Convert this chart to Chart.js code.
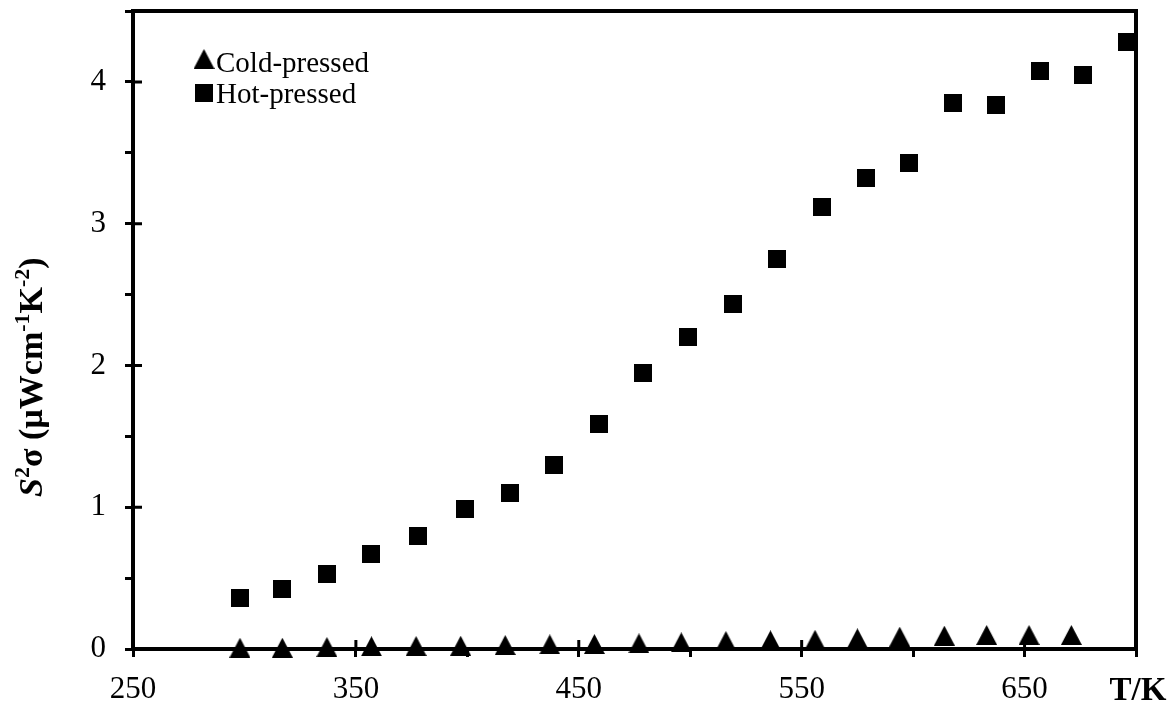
<!DOCTYPE html>
<html>
<head>
<meta charset="utf-8">
<script src="https://cdn.jsdelivr.net/npm/chart.js@4.4.1/dist/chart.umd.min.js"></script>
<style>
  html, body { margin: 0; padding: 0; background: #fff; }
  canvas { display: block; }
</style>
</head>
<body>
<canvas id="pf" width="1174" height="706"></canvas>
<script>
// power factor S²σ against temperature for the two pressing routes
const seriesNames = ['Cold-pressed', 'Hot-pressed'];

const coldT  = [298, 317, 337, 357, 377, 397, 417, 437, 457, 477, 496, 516, 536, 556, 575, 594, 614, 633, 652, 671];
const coldPF = [0.009, 0.009, 0.014, 0.019, 0.021, 0.023, 0.028, 0.033, 0.035, 0.040, 0.047, 0.056, 0.061, 0.065, 0.075, 0.087, 0.094, 0.099, 0.099, 0.099];

const hotT  = [298, 317, 337, 357, 378, 399, 419, 439, 459, 479, 499, 519, 539, 559, 579, 598, 618, 637, 657, 676, 696];
const hotPF = [0.36, 0.42, 0.53, 0.67, 0.80, 0.99, 1.10, 1.30, 1.59, 1.95, 2.20, 2.43, 2.75, 3.12, 3.32, 3.43, 3.85, 3.84, 4.08, 4.05, 4.28];

const xTicks = [250, 350, 450, 550, 650];
const yTicks = [0, 1, 2, 3, 4];

const SERIF = '"Liberation Serif", "Times New Roman", serif';
Chart.defaults.font.family = SERIF;
Chart.defaults.color = '#000';

// marker shapes painted onto small canvases and used as pointStyle
function makeMarker(w, h, paint) {
  const cv = document.createElement('canvas');
  cv.width = w; cv.height = h;
  const c = cv.getContext('2d');
  c.fillStyle = '#000';
  paint(c, w, h);
  return cv;
}
const triangle = makeMarker(21, 20, (c, w, h) => {
  c.beginPath();
  c.moveTo(w / 2, 0);
  c.lineTo(w, h);
  c.lineTo(0, h);
  c.closePath();
  c.fill();
});
const square = makeMarker(18, 18, (c, w, h) => c.fillRect(0, 0, w, h));

const toPoints = (xs, ys) => xs.map((x, i) => ({ x: x, y: ys[i] }));

// top/right frame lines
const frame = {
  id: 'frame',
  beforeDatasetsDraw(chart) {
    const { ctx, chartArea: a } = chart;
    ctx.save();
    ctx.strokeStyle = '#000';
    ctx.lineWidth = 4;
    ctx.beginPath();
    ctx.moveTo(a.left - 2, a.top);
    ctx.lineTo(a.right, a.top);
    ctx.lineTo(a.right, a.bottom + 2);
    ctx.stroke();
    ctx.restore();
  }
};

// major ticks also poke into the plot area
const innerTicks = {
  id: 'innerTicks',
  beforeDatasetsDraw(chart) {
    const { ctx, chartArea: a, scales } = chart;
    ctx.save();
    ctx.strokeStyle = '#000';
    ctx.lineWidth = 3;
    ctx.beginPath();
    xTicks.forEach(v => {
      const px = scales.x.getPixelForValue(v);
      ctx.moveTo(px, a.bottom);
      ctx.lineTo(px, a.bottom - 9);
    });
    yTicks.forEach(v => {
      const py = scales.y.getPixelForValue(v);
      ctx.moveTo(a.left, py);
      ctx.lineTo(a.left + 9, py);
    });
    ctx.stroke();
    ctx.restore();
  }
};

// legend in the upper-left corner of the plot
const cornerLegend = {
  id: 'cornerLegend',
  afterDatasetsDraw(chart) {
    const { ctx, chartArea: a } = chart;
    const rows = [
      { img: triangle, cy: 59, base: 72 },
      { img: square, cy: 92.5, base: 103 }
    ];
    ctx.save();
    ctx.font = '29px ' + SERIF;
    ctx.fillStyle = '#000';
    ctx.textBaseline = 'alphabetic';
    rows.forEach((r, i) => {
      const mx = a.left + 71;
      ctx.drawImage(r.img, mx - r.img.width / 2, r.cy - r.img.height / 2);
      ctx.fillText(chart.data.datasets[i].label, a.left + 83, r.base);
    });
    ctx.restore();
  }
};

// axis titles: rotated y title with superscript runs, T/K at the end of the x axis
const axisTitles = {
  id: 'axisTitles',
  afterDraw(chart) {
    const { ctx, chartArea: a } = chart;
    const big = 34, small = 22;
    const runs = [
      { t: 'S', f: 'italic bold ' + big + 'px ' + SERIF, dy: 0 },
      { t: '2', f: 'bold ' + small + 'px ' + SERIF, dy: -13 },
      { t: 'σ (µWcm', f: 'bold ' + big + 'px ' + SERIF, dy: 0 },
      { t: '-1', f: 'bold ' + small + 'px ' + SERIF, dy: -13 },
      { t: 'K', f: 'bold ' + big + 'px ' + SERIF, dy: 0 },
      { t: '-2', f: 'bold ' + small + 'px ' + SERIF, dy: -13 },
      { t: ')', f: 'bold ' + big + 'px ' + SERIF, dy: 0 }
    ];
    ctx.save();
    ctx.fillStyle = '#000';
    ctx.textBaseline = 'alphabetic';
    ctx.translate(42, 497);
    ctx.rotate(-Math.PI / 2);
    let x = 0;
    runs.forEach(r => {
      ctx.font = r.f;
      ctx.fillText(r.t, x, r.dy);
      x += ctx.measureText(r.t).width;
    });
    ctx.restore();

    ctx.save();
    ctx.fillStyle = '#000';
    ctx.font = 'bold 33px ' + SERIF;
    ctx.textAlign = 'center';
    ctx.textBaseline = 'alphabetic';
    ctx.fillText('T/K', a.right + 2, 700);
    ctx.restore();
  }
};

new Chart(document.getElementById('pf'), {
  type: 'scatter',
  data: {
    datasets: [
      {
        label: seriesNames[0],
        data: toPoints(coldT, coldPF),
        pointStyle: triangle,
        pointRadius: 10,
        clip: false
      },
      {
        label: seriesNames[1],
        data: toPoints(hotT, hotPF),
        pointStyle: square,
        pointRadius: 10,
        clip: false
      }
    ]
  },
  options: {
    responsive: false,
    animation: false,
    devicePixelRatio: 1,
    layout: { padding: { top: 10, right: 38, left: 0, bottom: 0 } },
    plugins: {
      legend: { display: false },
      tooltip: { enabled: false }
    },
    scales: {
      x: {
        type: 'linear',
        min: 250,
        max: 700,
        afterFit(scale) {
          scale.height = 57;
          scale.paddingLeft = 0;
          scale.paddingRight = 0;
        },
        ticks: {
          stepSize: 50,
          autoSkip: false,
          maxRotation: 0,
          padding: 14,
          color: '#000',
          font: { size: 31 },
          callback: v => xTicks.includes(v) ? String(v) : ''
        },
        grid: {
          drawOnChartArea: false,
          drawTicks: true,
          tickLength: 8,
          tickWidth: 3,
          tickColor: '#000'
        },
        border: { display: true, color: '#000', width: 4 }
      },
      y: {
        min: 0,
        max: 4.5,
        afterFit(scale) {
          scale.width = 133;
          scale.paddingTop = 0;
          scale.paddingBottom = 0;
        },
        ticks: {
          stepSize: 0.5,
          autoSkip: false,
          padding: 19,
          color: '#000',
          font: { size: 31 },
          callback: v => yTicks.includes(v) ? String(v) : ''
        },
        grid: {
          drawOnChartArea: false,
          drawTicks: true,
          tickLength: 8,
          tickWidth: 3,
          tickColor: '#000'
        },
        border: { display: true, color: '#000', width: 4 }
      }
    }
  },
  plugins: [frame, innerTicks, cornerLegend, axisTitles]
});
</script>
</body>
</html>
